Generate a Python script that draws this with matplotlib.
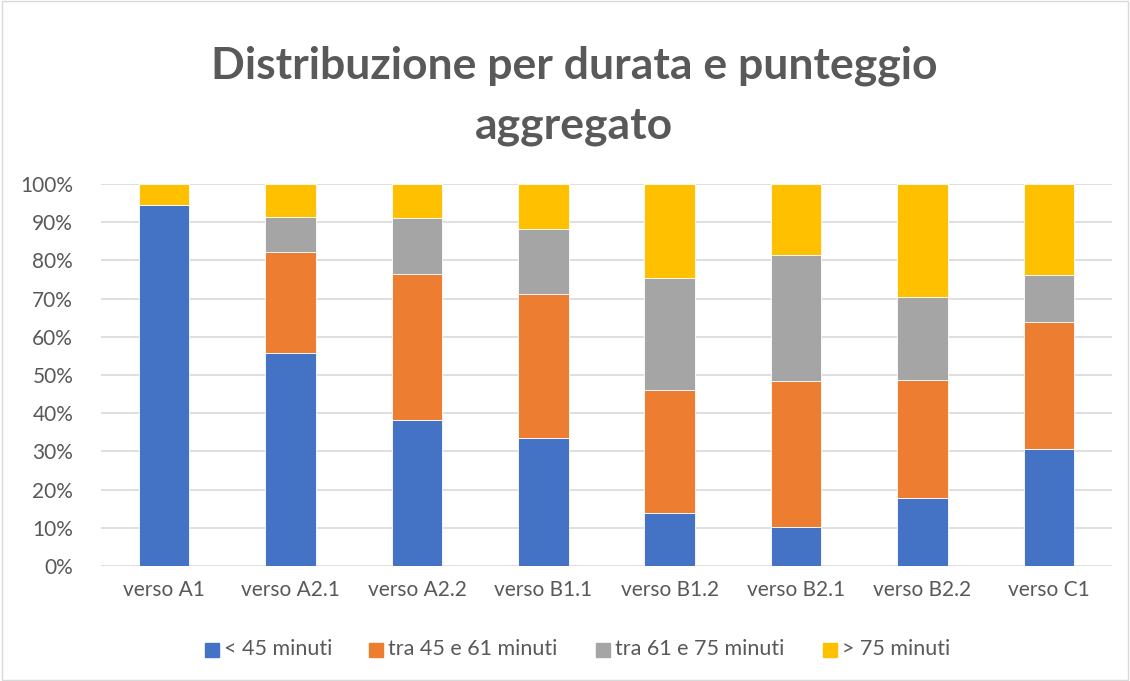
import matplotlib.pyplot as plt
import numpy as np
from matplotlib.patches import Rectangle
from matplotlib.ticker import PercentFormatter

categories = ["verso A1", "verso A2.1", "verso A2.2", "verso B1.1",
              "verso B1.2", "verso B2.1", "verso B2.2", "verso C1"]
series_names = ["< 45 minuti", "tra 45 e 61 minuti", "tra 61 e 75 minuti", "> 75 minuti"]
meno_45 = [94.4, 55.8, 38.2, 33.6, 13.8, 10.1, 17.8, 30.6]
tra_45_61 = [0.0, 26.4, 38.3, 37.7, 32.4, 38.2, 31.0, 33.4]
tra_61_75 = [0.0, 9.2, 14.6, 16.8, 29.3, 33.0, 21.7, 12.3]
oltre_75 = [5.6, 8.6, 8.9, 11.9, 24.5, 18.7, 29.5, 23.7]
colors = ["#4472C4", "#ED7D31", "#A5A5A5", "#FFC000"]

plt.rcParams['font.family'] = ['Lato', 'DejaVu Sans']
W, H = 1130, 681

fig = plt.figure(figsize=(11.3, 6.81), dpi=100)
ax = fig.add_axes([101 / W, 1 - 566 / H, 1011 / W, 382 / H])

x = np.arange(len(categories))
bottom = np.zeros(len(categories))
for vals, name, c in zip([meno_45, tra_45_61, tra_61_75, oltre_75], series_names, colors):
    ax.bar(x, vals, bottom=bottom, width=0.4, color=c, label=name,
           edgecolor="white", linewidth=0.6, zorder=3)
    bottom += np.array(vals)

ax.set_xlim(-0.5, len(categories) - 0.5)
ax.set_ylim(0, 100)
ax.set_yticks(np.arange(0, 101, 10))
ax.yaxis.set_major_formatter(PercentFormatter(decimals=0))
ax.set_xticks(x)
ax.set_xticklabels(categories)
ax.tick_params(axis="both", length=0, labelsize=15, colors="#595959")
ax.tick_params(axis="x", pad=10)
ax.tick_params(axis="y", pad=20)
ax.grid(axis="y", color="#D9D9D9", linewidth=1.2, zorder=0)
for s in ax.spines.values():
    s.set_visible(False)

fig.text(0.508, 1 - 96 / H, "Distribuzione per durata e punteggio\naggregato",
         ha="center", va="center", fontsize=32, fontweight="bold",
         color="#595959", linespacing=1.58)

# legend drawn by hand to get Excel's spacing
leg_x = [205, 369, 596, 823]
for lx, name, c in zip(leg_x, series_names, colors):
    fig.patches.append(Rectangle((lx / W, 1 - 657 / H), 14 / W, 14 / H,
                                 transform=fig.transFigure, color=c))
    fig.text((lx + 19) / W, 1 - 649 / H, name, ha="left", va="center",
             fontsize=15.5, color="#595959")

fig.patches.append(Rectangle((0.002, 0.002), 0.996, 0.996, transform=fig.transFigure,
                             fill=False, edgecolor="#D9D9D9", linewidth=1))

fig.savefig("out.png", dpi=100, facecolor="white")
